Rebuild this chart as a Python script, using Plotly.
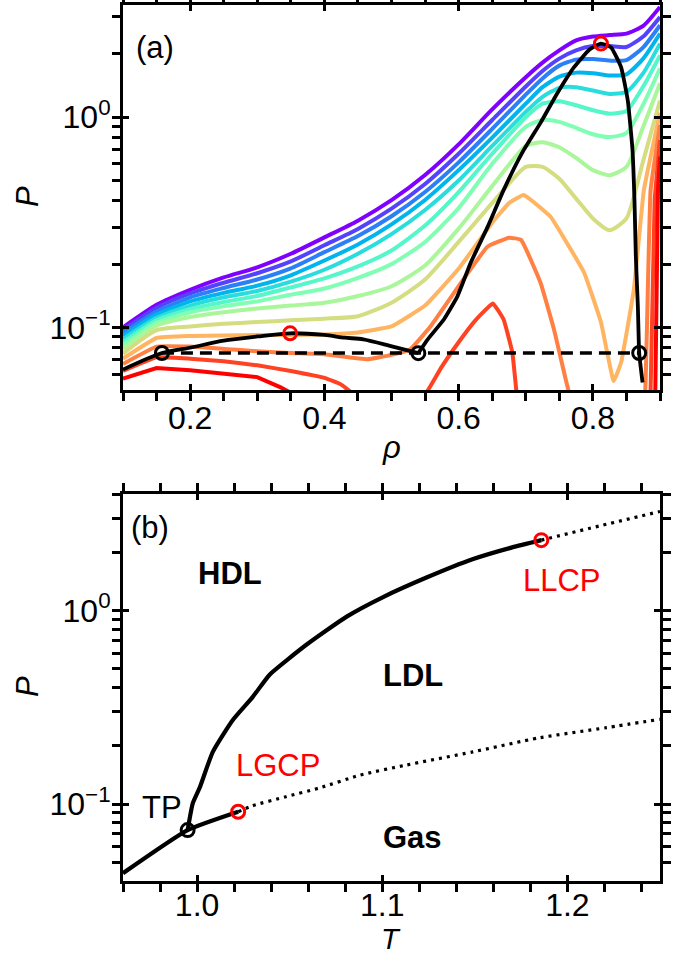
import math
import plotly.graph_objects as go

# ---------------- Panel (a): isotherms P(rho) ----------------
rho_grid = [0.10, 0.15, 0.20, 0.25, 0.30, 0.35, 0.40, 0.45, 0.50, 0.55, 0.60,
            0.65, 0.70, 0.725, 0.75, 0.775, 0.80, 0.825, 0.85, 0.875, 0.90]

p_c0 = [.100, .128, .151, .173, .193, .224, .268, .322, .403, .531, .743, 1.09, 1.55, 1.82, 2.08, 2.32, 2.42, 2.46, 2.50, 2.72, 3.35]
p_c1 = [.097, .124, .145, .163, .181, .206, .246, .294, .367, .481, .670, .970, 1.40, 1.66, 1.90, 2.08, 2.18, 2.18, 2.16, 2.42, 3.00]
p_c2 = [.094, .119, .139, .154, .169, .191, .228, .272, .338, .441, .610, .880, 1.28, 1.53, 1.76, 1.88, 1.89, 1.86, 1.87, 2.15, 2.74]
p_c3 = [.091, .115, .133, .146, .158, .177, .208, .248, .309, .404, .560, .800, 1.16, 1.39, 1.56, 1.63, 1.62, 1.58, 1.60, 1.90, 2.50]
p_c4 = [.088, .111, .127, .139, .149, .165, .188, .224, .278, .362, .500, .730, 1.06, 1.25, 1.38, 1.39, 1.34, 1.29, 1.32, 1.62, 2.24]
p_c5 = [.085, .108, .122, .132, .141, .155, .171, .195, .232, .305, .440, .670, 1.00, 1.16, 1.19, 1.14, 1.08, 1.04, 1.07, 1.40, 1.97]
p_c6 = [.082, .105, .118, .126, .133, .143, .153, .172, .200, .255, .370, .600, .900, .970, .950, .890, .830, .805, .840, 1.15, 1.71]
p_c7 = [.079, .102, .112, .118, .123, .127, .131, .141, .157, .197, .295, .470, .730, .760, .720, .640, .560, .530, .580, .900, 1.45]
p_c8 = [.075, .097, .101, .104, .106, .108, .110, .113, .131, .169, .255, .390, .580, .580, .510, .410, .330, .290, .330, .620, 1.20]

rho_c9 = [0.10, 0.15, 0.20, 0.25, 0.30, 0.35, 0.40, 0.45, 0.50, 0.55, 0.60, 0.65, 0.675, 0.697,
          0.737, 0.762, 0.787, 0.812, 0.831, 0.842, 0.861, 0.876, 0.90]
p_c9 = [.071, .089, .091, .0915, .092, .092, .0925, .0945, .101, .127, .190, .315, .390, .427,
        .336, .250, .182, .106, .0555, .068, .151, .450, 1.05]

rho_c10 = [0.10, 0.15, 0.20, 0.25, 0.30, 0.35, 0.40, 0.464, 0.50, 0.528, 0.558, 0.607, 0.643,
           0.675, 0.693, 0.722, 0.742, 0.763, 0.775, 0.870, 0.878, 0.886, 0.90]
p_c10 = [.067, .081, .081, .079, .077, .0755, .0745, .0705, .074, .0787, .101, .169, .242,
         .267, .261, .163, .098, .051, .040, .030, .050, .450, .920]

rho_c11 = [0.10, 0.15, 0.20, 0.25, 0.30, 0.35, 0.40, 0.424, 0.44, 0.47, 0.52, 0.554, 0.575,
           0.60, 0.625, 0.651, 0.667, 0.680, 0.686, 0.695, 0.880, 0.886, 0.892, 0.90]
p_c11 = [.062, .072, .071, .069, .066, .062, .0575, .0537, .049, .035, .035, .050, .065,
         .085, .108, .130, .109, .076, .050, .030, .030, .050, .400, .780]

rho_c12 = [0.10, 0.15, 0.20, 0.25, 0.30, 0.334, 0.36, 0.40, 0.85, 0.889, 0.893, 0.897, 0.90]
p_c12 = [.057, .064, .0625, .0605, .058, .052, .047, .040, .030, .030, .050, .450, .650]

iso_colors = ['#8000ff', '#5542fd', '#2b80f6', '#00b4ec', '#2adddd', '#55f6ca', '#80ffb4',
              '#aaf69b', '#d4dd80', '#ffb462', '#ff8042', '#ff4221', '#ff0000']

# black boundary curves in (a)
rho_blk1 = [.100, .158, .200, .250, .300, .349, .400, .430, .458, .499, .540]
p_blk1 = [.063, .0755, .0800, .0865, .0905, .0937, .0920, .0893, .0877, .0815, .0754]
rho_blk2 = [.540, .554, .578, .598, .618, .643, .667, .695, .722, .747, .772, .795, .812,
            .827, .842, .852, .859, .862, .864, .867, .869, .874]
p_blk2 = [.0754, .0877, .109, .140, .203, .300, .450, .680, .940, 1.30, 1.73, 2.10, 2.24,
          2.15, 1.73, 1.20, .700, .400, .218, .126, .0755, .0547]
rho_tie = [.158, .869]
p_tie = [.0755, .0755]
rho_black_pts = [.158, .540, .869]
p_black_pts = [.0755, .0754, .0755]
rho_red_pts = [.349, .812]
p_red_pts = [.0937, 2.24]

# ---------------- Panel (b): phase diagram P(T) ----------------
T_lg = [0.960, 0.9949, 1.0222]
P_lg = [0.0439, 0.0733, 0.0912]
T_ll = [0.9949, 0.9977, 1.0015, 1.0085, 1.0193, 1.0301, 1.0392, 1.0592, 1.0808, 1.1002,
        1.1239, 1.1487, 1.1702, 1.1859]
P_ll = [0.0733, 0.101, 0.122, 0.186, 0.272, 0.358, 0.466, 0.667, 0.930, 1.17,
        1.48, 1.84, 2.12, 2.31]
T_ll_ext = [1.1859, 1.217, 1.250]
P_ll_ext = [2.31, 2.73, 3.25]
T_lg_ext = [1.0222, 1.030, 1.048, 1.066, 1.088, 1.113, 1.149, 1.185, 1.221, 1.250]
P_lg_ext = [0.0912, 0.098, 0.109, 0.121, 0.141, 0.159, 0.186, 0.220, 0.248, 0.274]
T_tp, P_tp = [0.9949], [0.0733]
T_cp = [1.0222, 1.1859]
P_cp = [0.0912, 2.31]

FONT = "Liberation Sans, Arial, Helvetica, sans-serif"
FS = 31
TFS = 32

fig = go.Figure()

iso_rhos = [rho_grid] * 9 + [rho_c9, rho_c10, rho_c11, rho_c12]
iso_ps = [p_c0, p_c1, p_c2, p_c3, p_c4, p_c5, p_c6, p_c7, p_c8, p_c9, p_c10, p_c11, p_c12]
for i, (r, p, c) in enumerate(zip(iso_rhos, iso_ps, iso_colors)):
    if i < 9:
        shape = dict(shape='spline', smoothing=0.6)
    elif i < 12:
        shape = dict(shape='spline', smoothing=0.3)
    else:
        shape = dict(shape='linear')
    fig.add_trace(go.Scatter(x=r, y=p, mode='lines', line=dict(color=c, width=4, **shape),
                             xaxis='x', yaxis='y', showlegend=False, hoverinfo='skip'))

fig.add_trace(go.Scatter(x=rho_tie, y=p_tie, mode='lines',
                         line=dict(color='black', width=3.5, dash='12px,7px'),
                         xaxis='x', yaxis='y', showlegend=False))
for r, p, sm in [(rho_blk1, p_blk1, 0.8), (rho_blk2, p_blk2, 0.4)]:
    fig.add_trace(go.Scatter(x=r, y=p, mode='lines',
                             line=dict(color='black', width=3.8, shape='spline', smoothing=sm),
                             xaxis='x', yaxis='y', showlegend=False))
fig.add_trace(go.Scatter(x=rho_black_pts, y=p_black_pts, mode='markers',
                         marker=dict(symbol='circle-open', size=13, color='black', line=dict(width=3)),
                         xaxis='x', yaxis='y', showlegend=False))
fig.add_trace(go.Scatter(x=rho_red_pts, y=p_red_pts, mode='markers',
                         marker=dict(symbol='circle-open', size=13, color='red', line=dict(width=3)),
                         xaxis='x', yaxis='y', showlegend=False))

# panel (b)
for t, p in [(T_ll_ext, P_ll_ext), (T_lg_ext, P_lg_ext)]:
    fig.add_trace(go.Scatter(x=t, y=p, mode='lines',
                             line=dict(color='black', width=3.2, dash='3px,5px', shape='spline', smoothing=0.6),
                             xaxis='x2', yaxis='y2', showlegend=False))
for t, p in [(T_lg, P_lg), (T_ll, P_ll)]:
    fig.add_trace(go.Scatter(x=t, y=p, mode='lines',
                             line=dict(color='black', width=4.2, shape='spline', smoothing=0.5),
                             xaxis='x2', yaxis='y2', showlegend=False))
fig.add_trace(go.Scatter(x=T_tp, y=P_tp, mode='markers',
                         marker=dict(symbol='circle-open', size=13, color='black', line=dict(width=3)),
                         xaxis='x2', yaxis='y2', showlegend=False))
fig.add_trace(go.Scatter(x=T_cp, y=P_cp, mode='markers',
                         marker=dict(symbol='circle-open', size=13, color='red', line=dict(width=3)),
                         xaxis='x2', yaxis='y2', showlegend=False))

# dummy traces for overlay axes (inward major ticks)
for xa, ya in [('x3', 'y'), ('x', 'y3'), ('x4', 'y2'), ('x2', 'y4')]:
    fig.add_trace(go.Scatter(x=[None], y=[None], xaxis=xa, yaxis=ya, showlegend=False, hoverinfo='skip'))

W, H = 682, 956
xd = [123 / W, 660 / W]
yad = [1 - 390 / H, 1 - 5 / H]
ybd = [1 - 881 / H, 1 - 494 / H]

tickfont = dict(family=FONT, size=TFS, color='black')
base = dict(showline=True, linewidth=3, linecolor='black', mirror='ticks', ticks='outside',
            ticklen=8, tickwidth=3, tickcolor='black', showgrid=False, zeroline=False,
            tickfont=tickfont, automargin=False)
minor_style = dict(ticks='outside', ticklen=8, tickwidth=3, tickcolor='black', showgrid=False)
inner = dict(showline=True, linewidth=3, linecolor='black', mirror='ticks', ticks='inside',
             ticklen=6, tickwidth=3, tickcolor='black', showgrid=False, zeroline=False,
             showticklabels=False, automargin=False)

xa_major = [0.2, 0.4, 0.6, 0.8]
xa_text = ['0.2', '0.4', '0.6', '0.8']
xa_minor = [0.10, 0.15, 0.25, 0.30, 0.35, 0.45, 0.50, 0.55, 0.65, 0.70, 0.75, 0.85, 0.90]
ya_major = [0.1, 1]
ya_text = ['10<sup>\u22121</sup>', '10<sup>0</sup>']
ya_minor = [0.06, 0.07, 0.08, 0.09, 0.2, 0.3, 0.4, 0.5, 0.6, 0.7, 0.8, 0.9, 2, 3]
xb_major = [1.0, 1.1, 1.2]
xb_text = ['1.0', '1.1', '1.2']
xb_minor = [0.96, 0.98, 1.02, 1.04, 1.06, 1.08, 1.12, 1.14, 1.16, 1.18, 1.22, 1.24]
yb_minor = [0.05, 0.06, 0.07, 0.08, 0.09, 0.2, 0.3, 0.4, 0.5, 0.6, 0.7, 0.8, 0.9, 2, 3, 4]

ra_x = [0.1, 0.9]
ra_y = [-1.298, 0.534]
rb_x = [0.96, 1.25]
rb_y = [math.log10(0.04), math.log10(4.0)]

fig.update_layout(
    width=W, height=H, margin=dict(l=0, r=0, t=0, b=0),
    plot_bgcolor='white', paper_bgcolor='white', showlegend=False,
    font=dict(family=FONT, size=FS, color='black'),
    xaxis=dict(base, domain=xd, anchor='y', range=ra_x, tickmode='array', tickvals=xa_major,
               ticktext=xa_text, ticklabelstandoff=-10,
               minor=dict(minor_style, tickmode='array', tickvals=xa_minor)),
    yaxis=dict(base, domain=yad, anchor='x', type='log', range=ra_y, tickmode='array',
               tickvals=ya_major, ticktext=ya_text, ticklabelstandoff=-5,
               minor=dict(minor_style, tickmode='array', tickvals=ya_minor)),
    xaxis2=dict(base, domain=xd, anchor='y2', range=rb_x, tickmode='array', tickvals=xb_major,
                ticktext=xb_text, ticklabelstandoff=-14,
                minor=dict(minor_style, tickmode='array', tickvals=xb_minor)),
    yaxis2=dict(base, domain=ybd, anchor='x2', type='log', range=rb_y, tickmode='array',
                tickvals=ya_major, ticktext=ya_text, ticklabelstandoff=-5,
                minor=dict(minor_style, tickmode='array', tickvals=yb_minor)),
    xaxis3=dict(inner, overlaying='x', anchor='y', range=ra_x, tickmode='array', tickvals=xa_major),
    yaxis3=dict(inner, overlaying='y', anchor='x', type='log', range=ra_y, tickmode='array', tickvals=ya_major),
    xaxis4=dict(inner, overlaying='x2', anchor='y2', range=rb_x, tickmode='array', tickvals=xb_major),
    yaxis4=dict(inner, overlaying='y2', anchor='x2', type='log', range=rb_y, tickmode='array', tickvals=ya_major),
)

def pa(px, py, text, color='black', size=FS, angle=0):
    fig.add_annotation(x=px / W, y=1 - py / H, xref='paper', yref='paper', text=text,
                       showarrow=False, textangle=angle, xanchor='center', yanchor='middle',
                       borderpad=0, font=dict(family=FONT, size=size, color=color))

pa(155, 47, '(a)')
pa(150, 527, '(b)')
pa(27, 197, '<i>P</i>', angle=-90)
pa(27, 687, '<i>P</i>', angle=-90)
pa(391, 447, '<i>\u03c1</i>')
pa(391, 939, '<i>T</i>', size=29)
pa(230, 573, '<b>HDL</b>')
pa(413, 675, '<b>LDL</b>')
pa(412, 837, '<b>Gas</b>')
pa(562, 580, 'LLCP', color='red')
pa(278, 765, 'LGCP', color='red')
pa(162, 807, 'TP')

fig.write_html("out.html", config={'displayModeBar': False},
               post_script="document.body.style.margin='0px';document.body.style.padding='0px';")
